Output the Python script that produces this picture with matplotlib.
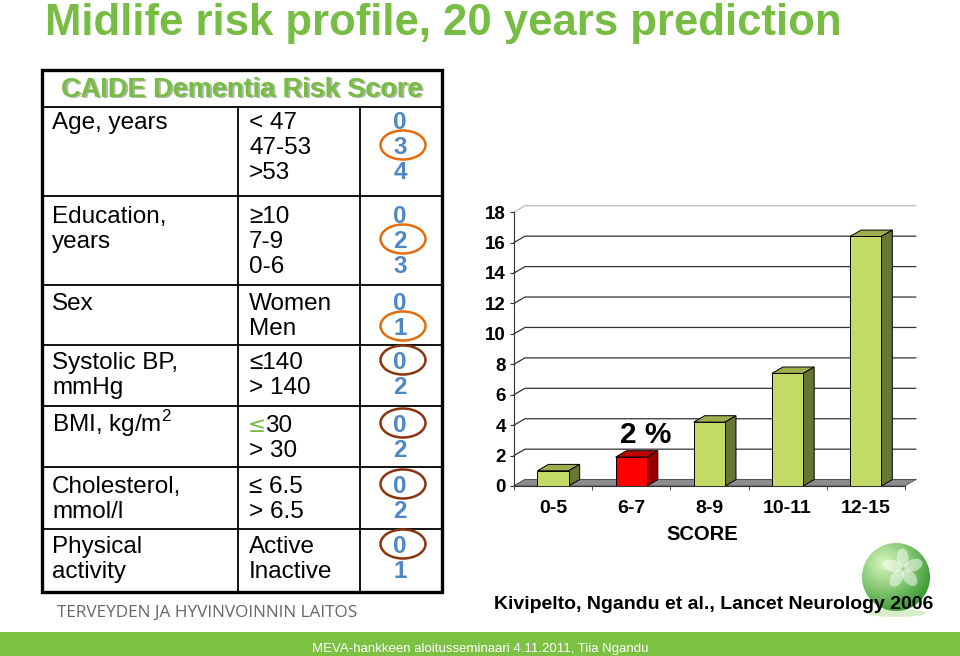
import matplotlib
matplotlib.use('Agg')
import matplotlib.pyplot as plt
from matplotlib.patches import Rectangle, Ellipse, Polygon, Circle
import numpy as np

plt.rcParams['font.family'] = ['Liberation Sans', 'DejaVu Sans']
plt.rcParams['mathtext.fontset'] = 'custom'
plt.rcParams['mathtext.rm'] = 'Liberation Sans'

# --- table data (CAIDE score) ---
factors = [["Age, years"], ["Education,", "years"], ["Sex"], ["Systolic BP,", "mmHg"],
           [r"BMI, kg/m$^\mathregular{2}$"], ["Cholesterol,", "mmol/l"], ["Physical", "activity"]]
levels = [["< 47", "47-53", ">53"], ["\u226510", "7-9", "0-6"], ["Women", "Men"],
          ["\u2264140", "> 140"], ["\u226430", "> 30"], ["\u2264 6.5", "> 6.5"], ["Active", "Inactive"]]
points = [[0, 3, 4], [0, 2, 3], [0, 1], [0, 2], [0, 2], [0, 2], [0, 1]]
circled = [1, 1, 1, 0, 0, 0, 0]

# --- bar chart data ---
score_groups = ['0-5', '6-7', '8-9', '10-11', '12-15']
risk_pct = [1.0, 1.9, 4.2, 7.4, 16.4]
highlight = 1
y_ticks = [0, 2, 4, 6, 8, 10, 12, 14, 16, 18]

GREEN = '#77bc43'
BLUE = '#4f86c6'

fig = plt.figure(figsize=(9.6, 6.56), dpi=100)
bg = fig.add_axes([0, 0, 1, 1])
bg.set_xlim(0, 960)
bg.set_ylim(656, 0)
bg.axis('off')

# title
bg.text(45, 35, 'Midlife risk profile, 20 years prediction', fontsize=31.5,
        fontweight='bold', color=GREEN, va='baseline')

# table frame
row_tops = [107, 196, 285, 345, 406, 467, 529, 592]
bg.add_patch(Rectangle((42, 70), 400, 522, fill=False, ec='black', lw=2.4, zorder=3))
for y in row_tops[:-1]:
    bg.plot([42, 442], [y, y], color='black', lw=1.3, zorder=3)
for x in [238, 360]:
    bg.plot([x, x], [107, 592], color='black', lw=1.3, zorder=3)

bg.text(243.5, 98.5, 'CAIDE Dementia Risk Score', fontsize=19.5, fontweight='bold',
        color='#8a9a80', ha='center', va='baseline', alpha=0.7)
bg.text(242, 97, 'CAIDE Dementia Risk Score', fontsize=19.5, fontweight='bold',
        color=GREEN, ha='center', va='baseline')

first_base = [129, 223, 310, 369, 432, 493, 553]
step = 25
fs = 17.5
for i in range(len(factors)):
    b = first_base[i]
    for j, s in enumerate(factors[i]):
        bg.text(52, b + j * step, s, fontsize=fs, va='baseline')
    for j, s in enumerate(levels[i]):
        if s.startswith('\u226430'):
            bg.text(248, b + j * step, '\u2264', fontsize=fs - 2, va='baseline',
                    color=GREEN, family=['DejaVu Sans'])
            bg.text(265, b + j * step, s[1:], fontsize=fs, va='baseline')
        else:
            bg.text(249, b + j * step, s, fontsize=fs, va='baseline')
    for j, p in enumerate(points[i]):
        bg.text(400, b + j * step, str(p), fontsize=fs, fontweight='bold',
                color=BLUE, ha='center', va='baseline')
    k = circled[i]
    c = '#e46c0a' if i < 3 else '#8b3510'
    bg.add_patch(Ellipse((403, b + k * step - 9), 45, 29, fill=False, ec=c, lw=1.8, zorder=4))

# footer texts
bg.text(57, 617, 'TERVEYDEN JA HYVINVOINNIN LAITOS', fontsize=12.3, color='#666666',
        va='baseline', family=['Open Sans', 'DejaVu Sans'])

# logo sphere
yy, xx = np.mgrid[-1:1:200j, -1:1:200j]
rr = np.sqrt((xx + 0.35) ** 2 + (yy + 0.4) ** 2)
grad = np.clip(rr / 1.6, 0, 1)
c0 = np.array([0.85, 0.97, 0.75])
c1 = np.array([0.18, 0.58, 0.15])
img = c0[None, None, :] * (1 - grad[..., None]) + c1[None, None, :] * grad[..., None]
cx, cy, r = 896, 577, 34
bg.add_patch(Ellipse((cx, cy + 36), 60, 8, fc='#bfe3a8', ec='none', alpha=0.6, zorder=1))
im = bg.imshow(img, extent=(cx - r, cx + r, cy + r, cy - r), zorder=2)
clip = Circle((cx, cy), r, transform=bg.transData)
im.set_clip_path(clip)
for ang in [0, 72, 144, 216, 288]:
    a = np.deg2rad(ang - 20)
    bg.add_patch(Ellipse((cx + 7 + 11 * np.cos(a), cy - 8 + 11 * np.sin(a)), 19, 12,
                         angle=ang - 20, fc='white', ec='none', alpha=0.5, zorder=3))
bg.set_xlim(0, 960)
bg.set_ylim(656, 0)

bg.text(494, 609, 'Kivipelto, Ngandu et al., Lancet Neurology 2006', fontsize=14,
        fontweight='bold', va='baseline', zorder=5)

bg.add_patch(Rectangle((0, 632), 960, 24, fc='#7dc142', ec='none'))
bg.text(480, 652, 'MEVA-hankkeen aloitusseminaari 4.11.2011, Tiia Ngandu', fontsize=9.5,
        color='white', ha='center', va='baseline')

bg.text(702, 540, 'SCORE', fontsize=14.5, fontweight='bold', ha='center', va='baseline')

# --- 3D-looking bar chart ---
ax = fig.add_axes([514 / 960, (656 - 486) / 656, 401 / 960, (486 - 203) / 656])
ax.patch.set_alpha(0)
ax.set_xlim(-0.5, 4.63)
ax.set_ylim(0, 18.6)
dx, dy = 0.14, 0.42
bw = 0.4

for t in y_ticks:
    ax.plot([-0.5, -0.5 + dx, 4.5 + dx], [t, t + dy, t + dy],
            color='#bbbbbb' if t == 18 else '#333333', lw=0.9, zorder=1, clip_on=False)
ax.add_patch(Polygon([(-0.5, 0), (4.5, 0), (4.5 + dx, dy), (-0.5 + dx, dy)],
                     closed=True, fc='#8c8c8c', ec='#555555', lw=0.6, zorder=2))

front = ['#c4da66'] * len(risk_pct)
top = ['#9caf4c'] * len(risk_pct)
side = ['#677634'] * len(risk_pct)
front[highlight], top[highlight], side[highlight] = '#ff0000', '#c00000', '#960000'

ax.bar(range(len(risk_pct)), risk_pct, width=bw, color=front, edgecolor='black',
       lw=0.7, zorder=4)
for i, h in enumerate(risk_pct):
    x0, x1 = i - bw / 2, i + bw / 2
    ax.add_patch(Polygon([(x0, h), (x1, h), (x1 + dx, h + dy), (x0 + dx, h + dy)],
                         closed=True, fc=top[i], ec='black', lw=0.7, zorder=3))
    ax.add_patch(Polygon([(x1, 0), (x1 + dx, dy), (x1 + dx, h + dy), (x1, h)],
                         closed=True, fc=side[i], ec='black', lw=0.7, zorder=3))

ax.text(highlight + 0.18, risk_pct[highlight] + 0.93, '2 %', fontsize=21.5,
        fontweight='bold', ha='center', va='baseline')

for s in ['top', 'right']:
    ax.spines[s].set_visible(False)
ax.spines['left'].set_bounds(0, 18)
ax.spines['bottom'].set_bounds(-0.5, 4.5)
ax.spines['left'].set_color('#333333')
ax.spines['bottom'].set_color('#333333')
ax.set_yticks(y_ticks)
ax.set_yticklabels([str(t) for t in y_ticks], fontsize=13.5, fontweight='bold')
ax.tick_params(axis='y', length=3, pad=3, color='#333333')
ax.set_xticks(range(len(score_groups)))
ax.set_xticklabels(score_groups, fontsize=14, fontweight='bold')
ax.set_xticks(np.arange(-0.5, 5, 1), minor=True)
ax.tick_params(axis='x', which='major', length=0, pad=10)
ax.tick_params(axis='x', which='minor', length=3, color='#333333')

fig.savefig('out.png', dpi=100)
